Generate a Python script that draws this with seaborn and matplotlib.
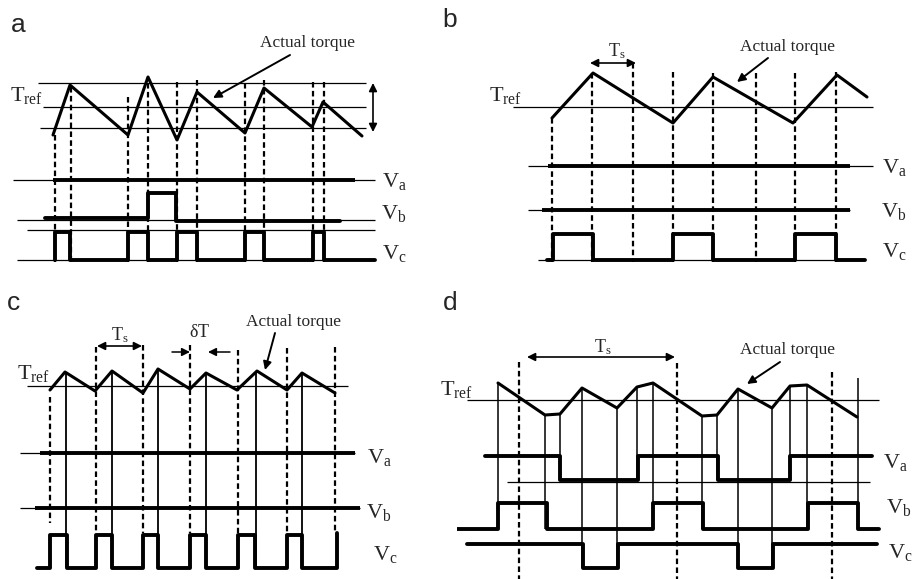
import matplotlib
matplotlib.use('Agg')
import matplotlib.pyplot as plt
import seaborn as sns

# 패널 좌표는 원본 그림의 픽셀 단위 (y는 아래로 증가)
W, H = 914, 579

# ---- panel a ----
a_t = [53, 70, 128, 148, 177, 197, 245, 264, 312, 323, 362]
a_torque = [135, 85, 135, 77, 140, 92, 133, 88, 127, 102, 136]
a_band = [83, 107, 128]
a_dash_x = [55, 71, 128, 148, 177, 197, 245, 264, 313, 324]
a_dash_top = [135, 87, 97, 83, 82, 80, 83, 80, 82, 82]
a_vb_t = [45, 148, 176, 340]
a_vb_lv = [218, 193, 221, 221]
a_vc_t = [55, 55, 70, 128, 148, 177, 197, 245, 264, 313, 324, 375]
a_vc_lv = [260, 232, 260, 232, 260, 232, 260, 232, 260, 232, 260, 260]

# ---- panel b ----
b_t = [552, 593, 673, 713, 793, 837, 867]
b_torque = [118, 73, 123, 77, 123, 75, 97]
b_dash_x = [552, 592, 633, 673, 713, 756, 795, 836]
b_dash_top = [118, 73, 63, 72, 73, 73, 73, 72]
b_vc_t = [547, 553, 593, 673, 713, 795, 836, 865]
b_vc_lv = [260, 234, 260, 234, 260, 234, 260, 260]

# ---- panel c ----
c_t = [50, 65, 95, 112, 143, 158, 190, 206, 237, 257, 287, 302, 335]
c_torque = [390, 372, 391, 371, 393, 369, 389, 373, 390, 371, 390, 373, 393]
c_dash_x = [50, 96, 143, 190, 238, 287, 335]
c_dash_top = [397, 347, 345, 345, 350, 348, 347]
c_dash_bot = [523, 533, 533, 533, 533, 533, 533]
c_peak_x = [66, 112, 158, 206, 256, 302]
c_peak_top = [372, 371, 369, 373, 371, 373]
c_vc_t = [37, 50, 67, 96, 112, 143, 158, 190, 206, 238, 255, 287, 302, 337, 337]
c_vc_lv = [568, 535, 568, 535, 568, 535, 568, 535, 568, 535, 568, 535, 568, 568, 533]

# ---- panel d ----
d_t = [498, 545, 560, 582, 617, 637, 653, 702, 717, 738, 772, 790, 807, 857]
d_torque = [383, 415, 414, 388, 408, 387, 383, 416, 415, 389, 408, 386, 385, 417]
d_dash_x = [519, 677, 832]
d_dash_top = [362, 363, 372]
d_edge_x = [498, 545, 560, 582, 617, 637, 653, 702, 717, 738, 772, 790, 807, 858]
d_edge_top = [383, 415, 414, 388, 408, 387, 383, 416, 415, 389, 408, 386, 385, 378]
d_edge_bot = [529, 529, 480, 568, 568, 480, 529, 529, 480, 568, 568, 480, 529, 529]
d_va_t = [485, 560, 638, 718, 790, 872]
d_va_lv = [456, 480, 456, 480, 456, 456]
d_vb_t = [455, 498, 547, 653, 703, 808, 858, 879]
d_vb_lv = [529, 503, 529, 503, 529, 503, 529, 529]
d_vc_t = [467, 583, 618, 738, 773, 877]
d_vc_lv = [544, 568, 544, 568, 544, 544]

sns.set_style('white')
plt.rcParams['mathtext.fontset'] = 'custom'
plt.rcParams['mathtext.rm'] = 'Liberation Serif'
plt.rcParams['font.family'] = ['Liberation Serif', 'DejaVu Sans']

THICK = 2.8
WAVE = 2.2
THIN = 0.9
DASH = (0, (2.5, 1.5))

fig = plt.figure(figsize=(W / 100, H / 100), dpi=100)


def panel_axes(x0, y0, x1, y1):
    ax = fig.add_axes([x0 / W, 1 - y1 / H, (x1 - x0) / W, (y1 - y0) / H])
    ax.set_xlim(x0, x1)
    ax.set_ylim(y1, y0)
    ax.axis('off')
    return ax


def wave(ax, xs, ys, lw=WAVE, step=False):
    kw = dict(drawstyle='steps-post') if step else {}
    sns.lineplot(x=xs, y=ys, ax=ax, estimator=None, sort=False, color='black',
                 linewidth=lw, legend=False, **kw)


def txt(ax, x, y, s, size=16, **kw):
    ax.text(x, y, s, fontsize=size, ha=kw.pop('ha', 'center'), va='center', **kw)


def arrow(ax, head, tail, style='-|>', lw=1.4):
    ax.annotate('', xy=head, xytext=tail,
                arrowprops=dict(arrowstyle=style, color='black', lw=lw,
                                mutation_scale=12, shrinkA=0, shrinkB=0))


axa = panel_axes(0, 0, 457, 290)
axb = panel_axes(457, 0, 914, 290)
axc = panel_axes(0, 290, 457, 579)
axd = panel_axes(457, 290, 914, 579)

# panel letters
for ax, (x, y), s in [(axa, (18, 25), 'a'), (axb, (450, 20), 'b'),
                      (axc, (13, 303), 'c'), (axd, (450, 303), 'd')]:
    ax.text(x, y, s, fontsize=19, family='Liberation Sans', ha='center', va='center')

# ===== a =====
axa.hlines(a_band, [38, 43, 40], 366, color='black', lw=THIN)
arrow(axa, (373, 83), (373, 132), style='<|-|>', lw=1.2)
axa.vlines(a_dash_x, a_dash_top, 262, color='black', lw=1.6, linestyles=DASH)
wave(axa, a_t, a_torque)
axa.hlines([180, 220, 230, 260], [13, 17, 27, 17], 375, color='black', lw=THIN)
axa.hlines(180, 53, 355, color='black', lw=THICK)
wave(axa, a_vb_t, a_vb_lv, THICK, step=True)
wave(axa, a_vc_t, a_vc_lv, THICK, step=True)
txt(axa, 10, 95, r'$\mathrm{T_{ref}}$', ha='left')
txt(axa, 308, 43, 'Actual torque', size=12.5)
arrow(axa, (213, 98), (290, 55))
txt(axa, 394, 181, r'$\mathrm{V_a}$')
txt(axa, 394, 214, r'$\mathrm{V_b}$')
txt(axa, 394, 254, r'$\mathrm{V_c}$')

# ===== b =====
axb.hlines(107, 513, 873, color='black', lw=THIN)
axb.vlines(b_dash_x, b_dash_top, 262, color='black', lw=1.6, linestyles=DASH)
wave(axb, b_t, b_torque)
axb.hlines([166, 210, 260], [528, 528, 538], [873, 850, 865], color='black', lw=THIN)
axb.hlines([166, 210], [548, 542], 850, color='black', lw=THICK)
wave(axb, b_vc_t, b_vc_lv, THICK, step=True)
arrow(axb, (636, 63), (590, 63), style='<|-|>', lw=1.2)
txt(axb, 617, 51, r'$\mathrm{T_s}$', size=13)
txt(axb, 489, 95, r'$\mathrm{T_{ref}}$', ha='left')
txt(axb, 788, 47, 'Actual torque', size=12.5)
arrow(axb, (737, 82), (768, 58))
txt(axb, 894, 168, r'$\mathrm{V_a}$')
txt(axb, 894, 212, r'$\mathrm{V_b}$')
txt(axb, 894, 251, r'$\mathrm{V_c}$')

# ===== c =====
axc.hlines(386, 27, 348, color='black', lw=THIN)
axc.vlines(c_dash_x, c_dash_top, c_dash_bot, color='black', lw=1.6, linestyles=DASH)
axc.vlines(c_peak_x, c_peak_top, 567, color='black', lw=1.3)
wave(axc, c_t, c_torque)
axc.hlines([453, 508], 20, [355, 360], color='black', lw=THIN)
axc.hlines([453, 508], [40, 35], [355, 360], color='black', lw=THICK)
wave(axc, c_vc_t, c_vc_lv, THICK, step=True)
arrow(axc, (142, 346), (97, 346), style='<|-|>', lw=1.2)
txt(axc, 120, 335, r'$\mathrm{T_s}$', size=13)
arrow(axc, (190, 352), (172, 352), lw=1.1)
arrow(axc, (208, 352), (230, 352), lw=1.1)
txt(axc, 200, 333, r'$\mathrm{\delta T}$', size=13)
txt(axc, 293, 322, 'Actual torque', size=12.5)
arrow(axc, (265, 370), (275, 333))
txt(axc, 17, 374, r'$\mathrm{T_{ref}}$', ha='left')
txt(axc, 379, 458, r'$\mathrm{V_a}$')
txt(axc, 379, 513, r'$\mathrm{V_b}$')
txt(axc, 385, 555, r'$\mathrm{V_c}$')

# ===== d =====
axd.hlines(400, 467, 879, color='black', lw=THIN)
axd.vlines(d_dash_x, d_dash_top, 579, color='black', lw=1.6, linestyles=DASH)
axd.vlines(d_edge_x, d_edge_top, d_edge_bot, color='black', lw=1.1)
wave(axd, d_t, d_torque)
axd.hlines(482, 507, 870, color='black', lw=THIN)
wave(axd, d_va_t, d_va_lv, THICK, step=True)
wave(axd, d_vb_t, d_vb_lv, THICK, step=True)
wave(axd, d_vc_t, d_vc_lv, THICK, step=True)
arrow(axd, (675, 357), (527, 357), style='<|-|>', lw=1.2)
txt(axd, 603, 347, r'$\mathrm{T_s}$', size=13)
txt(axd, 440, 390, r'$\mathrm{T_{ref}}$', ha='left')
txt(axd, 787, 350, 'Actual torque', size=12.5)
arrow(axd, (747, 384), (780, 362))
txt(axd, 895, 463, r'$\mathrm{V_a}$')
txt(axd, 899, 508, r'$\mathrm{V_b}$')
txt(axd, 900, 553, r'$\mathrm{V_c}$')

fig.savefig('out.png', dpi=100)
